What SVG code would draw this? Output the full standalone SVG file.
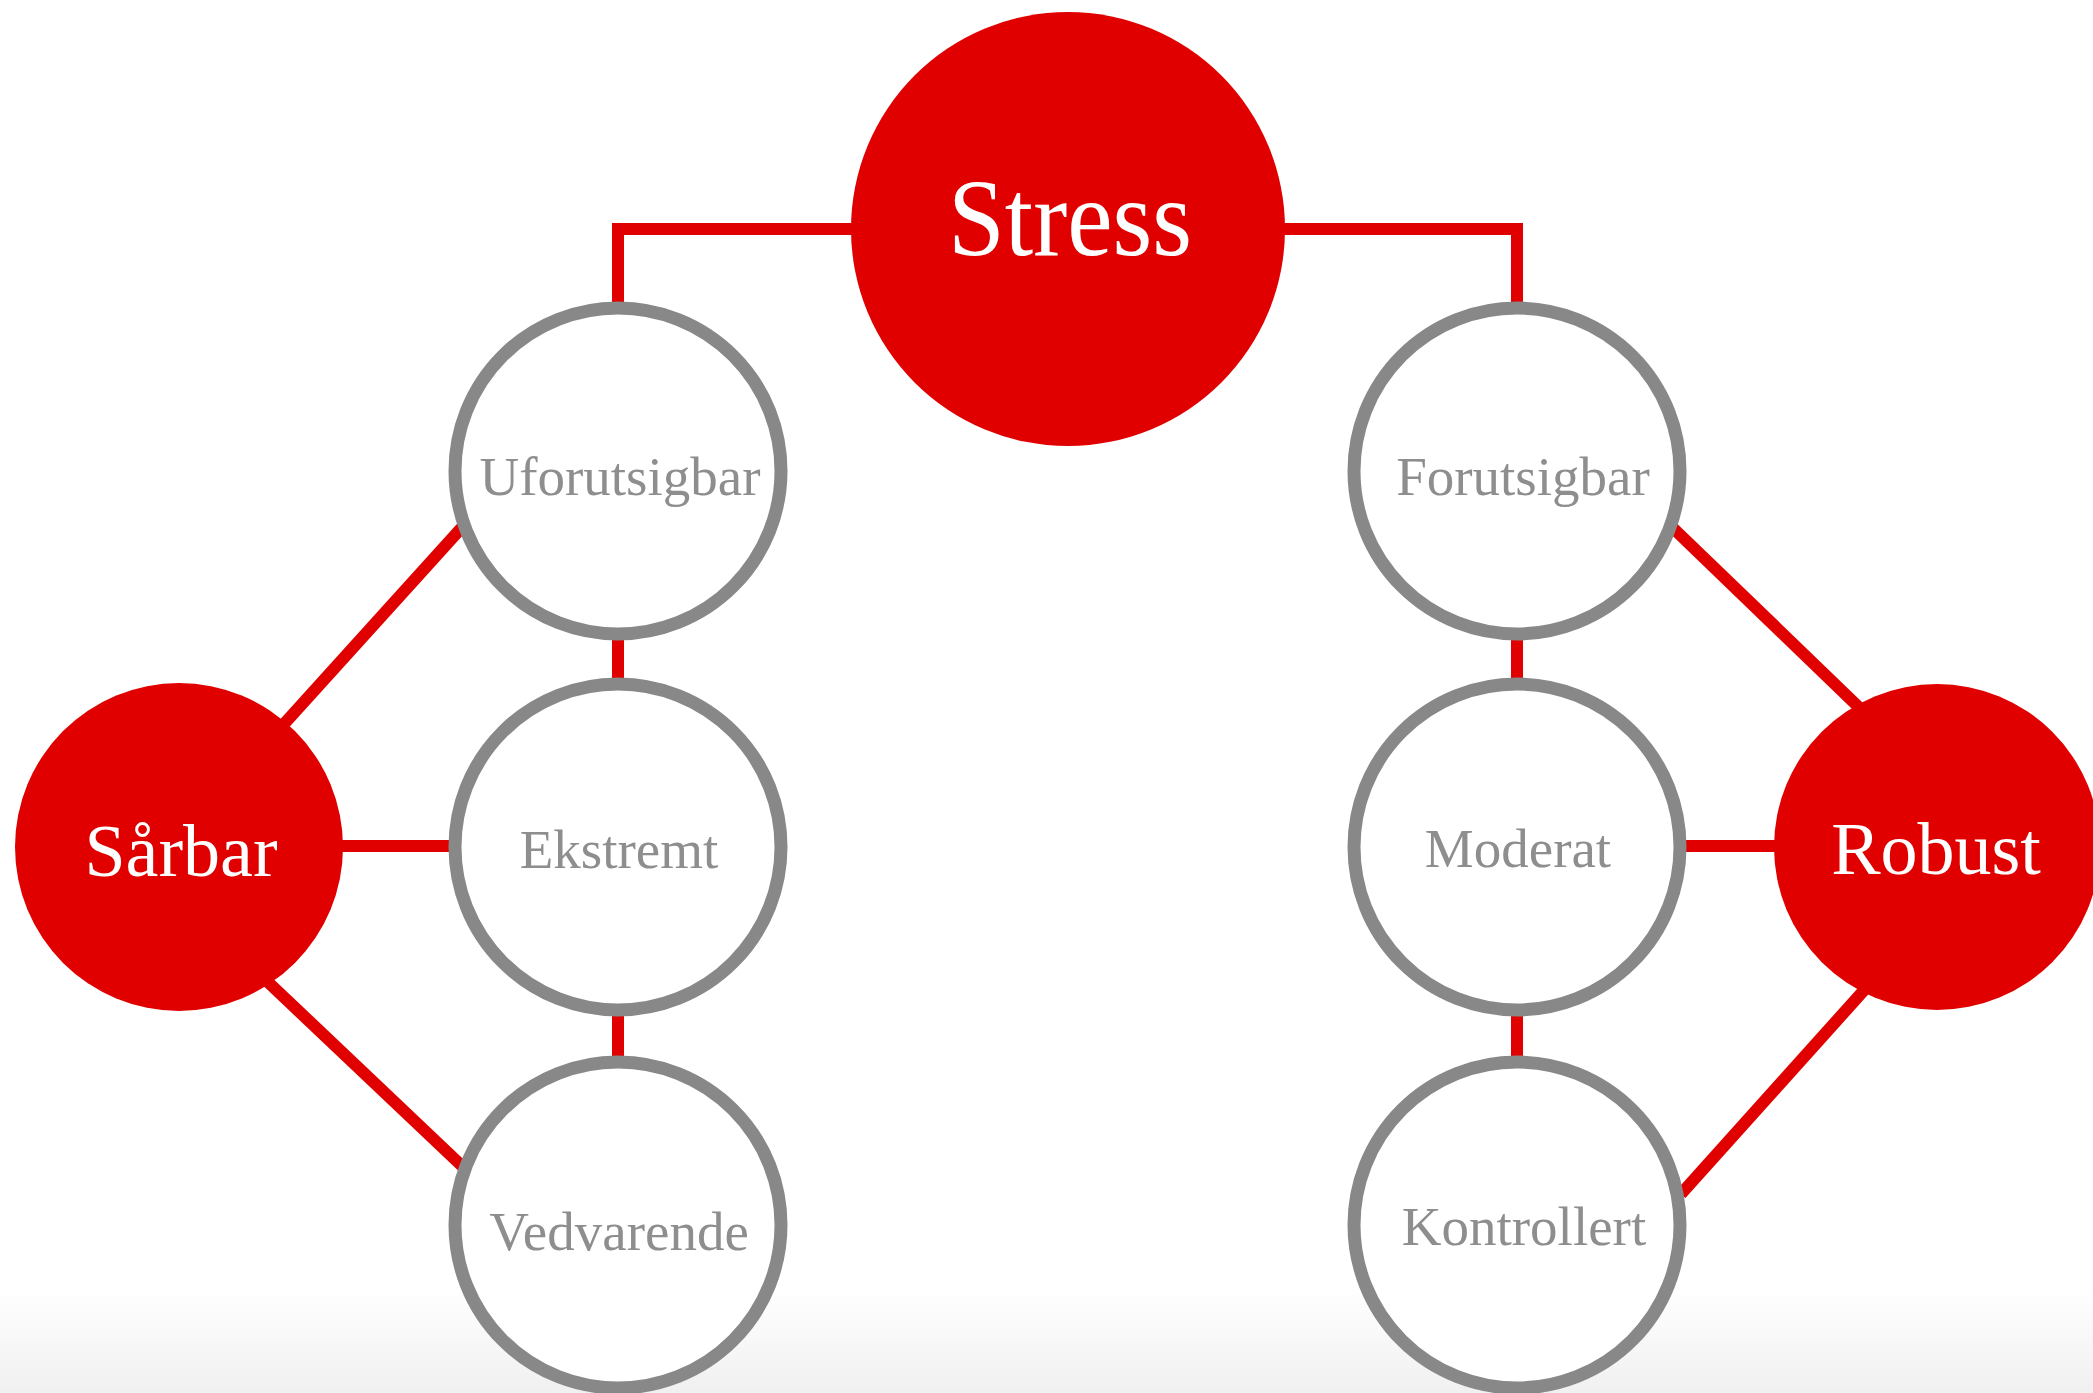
<svg xmlns="http://www.w3.org/2000/svg" width="2093" height="1393" viewBox="0 0 2093 1393">
<defs>
<linearGradient id="bg" x1="0" y1="0" x2="0" y2="1">
<stop offset="0" stop-color="#ffffff"/>
<stop offset="1" stop-color="#f0f0f0"/>
</linearGradient>
<style>
.conn{stroke:#e00000;stroke-width:12;fill:none}
.red{fill:#e00000}
.ring{fill:#ffffff;stroke:#888888;stroke-width:13}
.big{font-family:"Liberation Serif","Times New Roman",serif;fill:#ffffff;text-anchor:middle}
.small{font-family:"Liberation Serif","Times New Roman",serif;fill:#8e8e8e;font-size:55px;text-anchor:middle}
</style>
</defs>
<rect x="0" y="0" width="2093" height="1393" fill="#ffffff"/>
<rect x="0" y="1290" width="2093" height="103" fill="url(#bg)"/>
<g id="connectors">
<path class="conn" d="M1068 229 H618 V330"/>
<path class="conn" d="M1068 229 H1517 V330"/>
<line class="conn" x1="618" y1="620" x2="618" y2="700"/>
<line class="conn" x1="618" y1="1000" x2="618" y2="1075"/>
<line class="conn" x1="1517" y1="620" x2="1517" y2="700"/>
<line class="conn" x1="1517" y1="1000" x2="1517" y2="1075"/>
<line class="conn" x1="300" y1="846" x2="470" y2="846"/>
<line class="conn" x1="1660" y1="846" x2="1800" y2="846"/>
<line class="conn" x1="265" y1="745" x2="465" y2="524"/>
<line class="conn" x1="250" y1="965" x2="462" y2="1166"/>
<line class="conn" x1="1673" y1="528" x2="1870" y2="718"/>
<line class="conn" x1="1875" y1="978" x2="1681" y2="1194"/>
</g>
<g id="node-stress">
<circle class="red" cx="1068" cy="229" r="217"/>
<text class="big" x="1070" y="255" font-size="110" textLength="244" lengthAdjust="spacingAndGlyphs">Stress</text>
</g>
<g id="node-uforutsigbar">
<circle class="ring" cx="618" cy="471" r="163"/>
<text class="small" x="620" y="495">Uforutsigbar</text>
</g>
<g id="node-ekstremt">
<circle class="ring" cx="618" cy="847" r="163"/>
<text class="small" x="619" y="868">Ekstremt</text>
</g>
<g id="node-vedvarende">
<circle class="ring" cx="618" cy="1225" r="163"/>
<text class="small" x="619" y="1250">Vedvarende</text>
</g>
<g id="node-forutsigbar">
<circle class="ring" cx="1517" cy="471" r="163"/>
<text class="small" x="1523" y="495">Forutsigbar</text>
</g>
<g id="node-moderat">
<circle class="ring" cx="1517" cy="847" r="163"/>
<text class="small" x="1518" y="867">Moderat</text>
</g>
<g id="node-kontrollert">
<circle class="ring" cx="1517" cy="1225" r="163"/>
<text class="small" x="1524" y="1245">Kontrollert</text>
</g>
<g id="node-sarbar">
<circle class="red" cx="179" cy="847" r="164"/>
<text class="big" x="181" y="876" font-size="74">Sårbar</text>
</g>
<g id="node-robust">
<circle class="red" cx="1937" cy="847" r="163"/>
<text class="big" x="1936" y="874" font-size="74">Robust</text>
</g>
</svg>
